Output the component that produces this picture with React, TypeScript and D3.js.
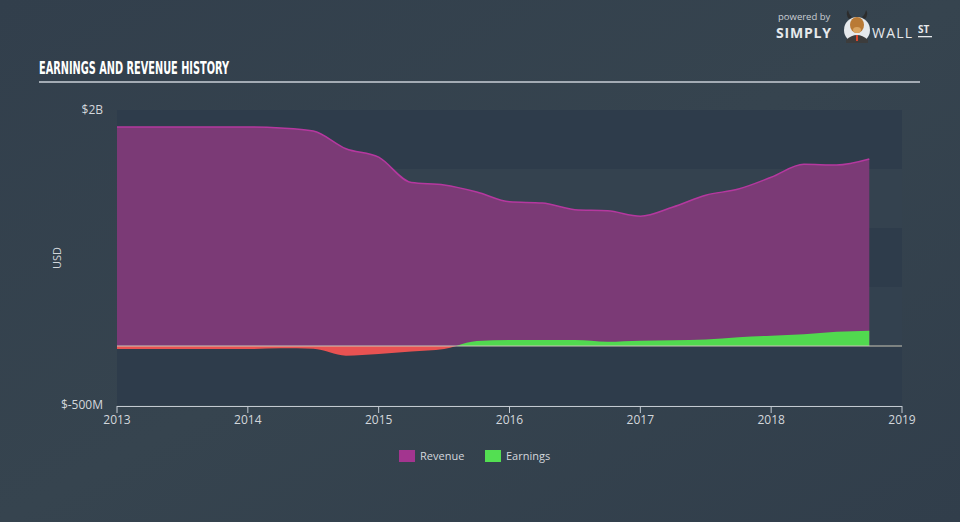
import React from "react";
import * as d3 from "d3";

const years = [2013, 2014, 2015, 2016, 2017, 2018, 2019];
const yTickLabels = ["$2B", "$-500M"];
const yTickValues = [2, -0.5];

// quarterly dates (fractional years)
const dates = [
  2013.0, 2013.25, 2013.5, 2013.75, 2014.0, 2014.25, 2014.5, 2014.75,
  2015.0, 2015.25, 2015.5, 2015.75, 2016.0, 2016.25, 2016.5, 2016.75,
  2017.0, 2017.25, 2017.5, 2017.75, 2018.0, 2018.25, 2018.5, 2018.75,
];
// values in billions USD
const revenue = [
  1.856, 1.856, 1.856, 1.856, 1.856, 1.848, 1.822, 1.672,
  1.600, 1.385, 1.365, 1.305, 1.222, 1.212, 1.155, 1.146,
  1.100, 1.178, 1.278, 1.330, 1.430, 1.540, 1.534, 1.585,
];
const earnings = [
  -0.025, -0.025, -0.026, -0.026, -0.026, -0.02, -0.024, -0.082,
  -0.068, -0.047, -0.026, 0.042, 0.05, 0.05, 0.05, 0.036,
  0.045, 0.048, 0.055, 0.075, 0.087, 0.1, 0.12, 0.13,
];

const legendItems = [
  { label: "Revenue", color: "#a3358f" },
  { label: "Earnings", color: "#53df52" },
];

const W = 960;
const H = 522;

export default function App() {
  const x = d3.scaleLinear().domain([2013, 2019]).range([117, 902]);
  const y = d3.scaleLinear().domain([-0.5, 2]).range([405, 110]);
  const y0 = y(0);

  const revData = dates.map((d, i) => ({ d, v: revenue[i] }));
  const earnData = dates.map((d, i) => ({ d, v: earnings[i] }));

  const revArea = d3
    .area<{ d: number; v: number }>()
    .x((p) => x(p.d))
    .y0(y0)
    .y1((p) => y(p.v))
    .curve(d3.curveMonotoneX);
  const revLine = d3
    .line<{ d: number; v: number }>()
    .x((p) => x(p.d))
    .y((p) => y(p.v))
    .curve(d3.curveMonotoneX);
  const earnArea = d3
    .area<{ d: number; v: number }>()
    .x((p) => x(p.d))
    .y0(y0)
    .y1((p) => y(p.v))
    .curve(d3.curveMonotoneX);

  const bands = [
    [1.5, 2, "#2e3c4b"],
    [1, 1.5, "#34424f"],
    [0.5, 1, "#2e3c4b"],
    [0, 0.5, "#33414f"],
    [-0.5, 0, "#2e3c4b"],
  ] as [number, number, string][];

  const font = "'Open Sans', 'DejaVu Sans', sans-serif";

  return (
    <svg width={W} height={H} style={{ display: "block", position: "absolute", left: 0, top: 0 }}>
      <defs>
        <linearGradient id="bg" x1="0" y1="0" x2="1" y2="1">
          <stop offset="0" stopColor="#323f4c" />
          <stop offset="0.5" stopColor="#36444f" />
          <stop offset="1" stopColor="#313e4b" />
        </linearGradient>
        <clipPath id="pos">
          <rect x={0} y={0} width={W} height={y0} />
        </clipPath>
        <clipPath id="neg">
          <rect x={0} y={y0} width={W} height={H - y0} />
        </clipPath>
      </defs>
      <rect x={0} y={0} width={W} height={H} fill="url(#bg)" />

      {/* title */}
      <text
        x={39}
        y={74}
        fill="#ffffff"
        fontFamily="'Liberation Sans Narrow', 'DejaVu Sans Condensed', sans-serif"
        fontWeight="bold"
        fontSize={17}
        textLength={190}
        lengthAdjust="spacingAndGlyphs"
      >
        EARNINGS AND REVENUE HISTORY
      </text>
      <rect x={39} y={81} width={881} height={2} fill="#a3abb4" />

      {/* logo */}
      <g fontFamily={font}>
        <text x={778} y={20} fill="#c9ced4" fontSize={9.5}>powered by</text>
        <text x={776} y={38} fill="#e6e9ec" fontSize={14} fontWeight="bold" letterSpacing={0.8}>SIMPLY</text>
        <circle cx={857} cy={30} r={13} fill="#e6e9ec" />
        <path d="M846,40 Q857,30 868,40 L868,43 L846,43 Z" fill="#3c3c3c" />
        <ellipse cx={857} cy={25} rx={7} ry={8} fill="#b97a35" />
        <ellipse cx={857} cy={30} rx={4} ry={3} fill="#d9a460" />
        <path d="M849,19 Q845,14 848,10 Q849,15 852,17 Z" fill="#2c2c2c" />
        <path d="M865,19 Q869,14 866,10 Q865,15 862,17 Z" fill="#2c2c2c" />
        <rect x={856} y={35} width={2} height={6} fill="#d9452b" />
        <text x={872} y={38} fill="#e6e9ec" fontSize={14} letterSpacing={1.2}>WALL</text>
        <text x={918} y={33} fill="#e6e9ec" fontSize={10} fontWeight="bold">ST</text>
        <rect x={918} y={36} width={14} height={1.3} fill="#e6e9ec" />
      </g>

      {/* plot background bands */}
      {bands.map(([a, b, c], i) => (
        <rect key={i} x={x(2013)} y={y(b)} width={x(2019) - x(2013)} height={y(a) - y(b)} fill={c} />
      ))}

      {/* revenue */}
      <path d={revArea(revData) ?? ""} fill="#7b3a76" />
      <path d={revLine(revData) ?? ""} fill="none" stroke="#b5389f" strokeWidth={1.5} />

      {/* earnings */}
      <path d={earnArea(earnData) ?? ""} fill="#51d94f" clipPath="url(#pos)" />
      <path d={earnArea(earnData) ?? ""} fill="#e85252" clipPath="url(#neg)" />

      {/* zero line */}
      <line x1={x(2013)} x2={x(2019)} y1={y0} y2={y0} stroke="#c9c6b6" strokeWidth={1} />

      {/* x axis */}
      <line x1={x(2013)} x2={x(2019)} y1={406.5} y2={406.5} stroke="#c3cad2" strokeWidth={1} />
      {years.map((yr) => (
        <g key={yr}>
          <line x1={x(yr)} x2={x(yr)} y1={406} y2={413} stroke="#c3cad2" strokeWidth={1} />
          <text x={x(yr)} y={424} textAnchor="middle" fill="#d3d7dc" fontFamily={font} fontSize={12}>
            {yr}
          </text>
        </g>
      ))}

      {/* y labels */}
      {yTickValues.map((v, i) => (
        <text key={i} x={103} y={y(v) + 4} textAnchor="end" fill="#d3d7dc" fontFamily={font} fontSize={12}>
          {yTickLabels[i]}
        </text>
      ))}
      <text
        transform="translate(61,258) rotate(-90)"
        textAnchor="middle"
        fill="#d3d7dc"
        fontFamily={font}
        fontSize={11}
      >
        USD
      </text>

      {/* legend */}
      {legendItems.map((it, i) => {
        const lx = 399 + i * 86;
        return (
          <g key={it.label}>
            <rect x={lx} y={450} width={16} height={12} fill={it.color} />
            <text x={lx + 21} y={460} fill="#d3d7dc" fontFamily={font} fontSize={11}>
              {it.label}
            </text>
          </g>
        );
      })}
    </svg>
  );
}
